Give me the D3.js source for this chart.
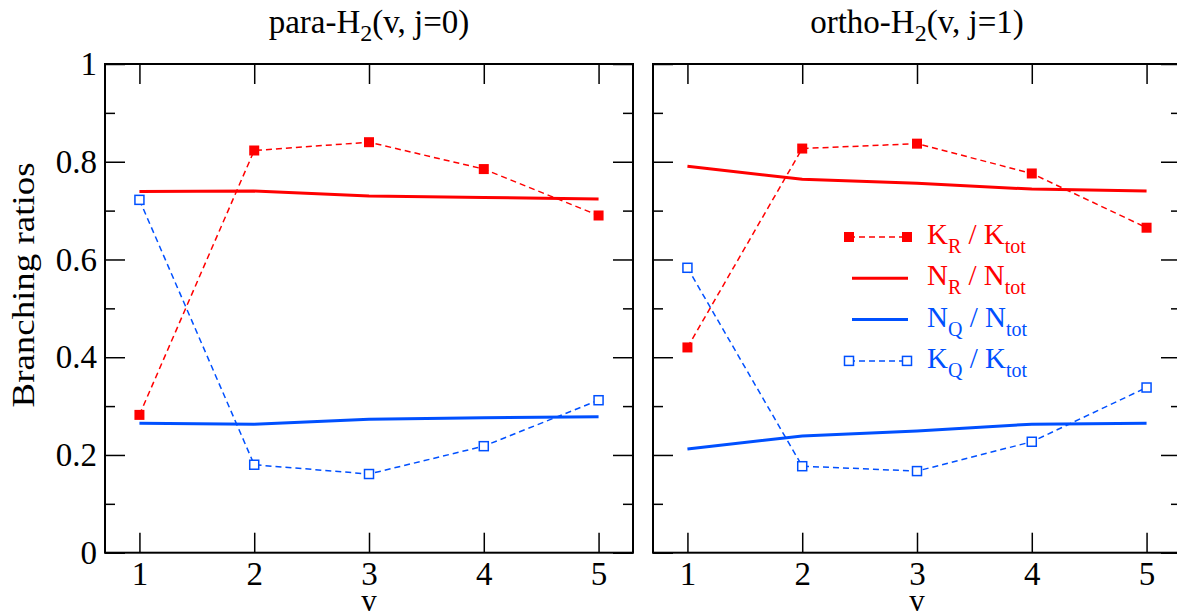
<!DOCTYPE html>
<html>
<head>
<meta charset="utf-8">
<script src="https://cdn.jsdelivr.net/npm/d3@7"></script>
<style>
  body { margin: 0; background: #fff; }
  text { font-family: "Liberation Serif", "DejaVu Serif", serif; }
</style>
</head>
<body>
<div id="chart"></div>
<script>
//Data//
var vLevels = [1, 2, 3, 4, 5];
var yTicks = [0, 0.2, 0.4, 0.6, 0.8, 1];
var yMinor = [0.1, 0.3, 0.5, 0.7, 0.9];

//para-H2 (j=0)
var paraKR = [0.282, 0.823, 0.840, 0.785, 0.690];
var paraNR = [0.739, 0.740, 0.730, 0.727, 0.724];
var paraNQ = [0.265, 0.263, 0.273, 0.276, 0.278];
var paraKQ = [0.722, 0.180, 0.161, 0.218, 0.312];

//ortho-H2 (j=1)
var orthoKR = [0.420, 0.827, 0.837, 0.776, 0.665];
var orthoNR = [0.791, 0.764, 0.756, 0.744, 0.740];
var orthoNQ = [0.212, 0.239, 0.249, 0.263, 0.265];
var orthoKQ = [0.583, 0.177, 0.167, 0.227, 0.338];

var RED = "#ff0000", BLUE = "#0050ff";

var W = 1177, H = 613;
var svg = d3.select("#chart").append("svg")
  .attr("width", W).attr("height", H);

var yTop = 64, yBottom = 552.7, pw = 528;
var y = d3.scaleLinear().domain([0, 1]).range([yBottom, yTop]);

var panels = [
  {left: 105, title: ["para-H", "2", "(v, j=0)"], kr: paraKR, nr: paraNR, nq: paraNQ, kq: paraKQ, labels: true},
  {left: 653, title: ["ortho-H", "2", "(v, j=1)"], kr: orthoKR, nr: orthoNR, nq: orthoNQ, kq: orthoKQ, labels: false}
];

panels.forEach(function(p) {
  var x = d3.scaleLinear().domain([0.7, 5.3]).range([p.left, p.left + pw]);
  var g = svg.append("g");

  //ticks, all pointing inward
  function addAxis(axis, tx, ty) {
    var a = g.append("g").attr("transform", "translate(" + tx + "," + ty + ")").call(axis);
    a.select(".domain").remove();
    a.selectAll("line").attr("stroke", "#000").attr("stroke-width", 1.5);
    a.selectAll("text").attr("font-size", 33).attr("fill", "#000")
      .style("font-family", "Liberation Serif, serif");
    return a;
  }
  var fmt = function(d) { return p.labels ? String(+d.toFixed(1)) : ""; };
  addAxis(d3.axisLeft(y).tickValues(yTicks).tickSize(-20).tickPadding(8).tickFormat(fmt), p.left, 0);
  addAxis(d3.axisLeft(y).tickValues(yMinor).tickSize(-10).tickFormat(""), p.left, 0);
  addAxis(d3.axisRight(y).tickValues(yTicks).tickSize(-20).tickFormat(""), p.left + pw, 0);
  addAxis(d3.axisRight(y).tickValues(yMinor).tickSize(-10).tickFormat(""), p.left + pw, 0);
  var bx = addAxis(d3.axisBottom(x).tickValues(vLevels).tickSize(-20).tickFormat(d3.format("d")), 0, yBottom);
  bx.selectAll("text").attr("dy", null).attr("y", 32);
  addAxis(d3.axisTop(x).tickValues(vLevels).tickSize(-20).tickFormat(""), 0, yTop);

  //frame
  g.append("rect")
    .attr("x", p.left).attr("y", yTop).attr("width", pw).attr("height", yBottom - yTop)
    .attr("fill", "none").attr("stroke", "#000").attr("stroke-width", 2);

  //x label
  g.append("text").attr("x", x(3)).attr("y", 611).attr("text-anchor", "middle")
    .attr("font-size", 31).text("v");

  //title
  var t = g.append("text").attr("x", x(3)).attr("y", 33).attr("text-anchor", "middle").attr("font-size", 33);
  t.append("tspan").text(p.title[0]);
  t.append("tspan").attr("dy", 8).attr("font-size", 24).text(p.title[1]);
  t.append("tspan").attr("dy", -8).text(p.title[2]);

  var line = d3.line().x(function(d, i) { return x(vLevels[i]); }).y(function(d) { return y(d); });

  //solid N ratios
  g.append("path").datum(p.nr).attr("d", line).attr("fill", "none")
    .attr("stroke", RED).attr("stroke-width", 3);
  g.append("path").datum(p.nq).attr("d", line).attr("fill", "none")
    .attr("stroke", BLUE).attr("stroke-width", 3);

  //dashed K ratios
  g.append("path").datum(p.kr).attr("d", line).attr("fill", "none")
    .attr("stroke", RED).attr("stroke-width", 1.5).attr("stroke-dasharray", "6,4");
  g.append("path").datum(p.kq).attr("d", line).attr("fill", "none")
    .attr("stroke", BLUE).attr("stroke-width", 1.5).attr("stroke-dasharray", "6,4");

  g.selectAll(".kr").data(p.kr).enter().append("rect").attr("class", "kr")
    .attr("x", function(d, i) { return x(vLevels[i]) - 5; })
    .attr("y", function(d) { return y(d) - 5; })
    .attr("width", 10).attr("height", 10).attr("fill", RED);
  g.selectAll(".kq").data(p.kq).enter().append("rect").attr("class", "kq")
    .attr("x", function(d, i) { return x(vLevels[i]) - 4.5; })
    .attr("y", function(d) { return y(d) - 4.5; })
    .attr("width", 9).attr("height", 9).attr("fill", "#fff")
    .attr("stroke", BLUE).attr("stroke-width", 1.5);
});

//y axis title
svg.append("text")
  .attr("transform", "translate(34,285) rotate(-90)")
  .attr("text-anchor", "middle").attr("font-size", 31)
  .attr("textLength", 245).attr("lengthAdjust", "spacingAndGlyphs")
  .text("Branching ratios");

//Legend (right panel)
var legendItems = [
  {main: "K", sub: "R", den: "K", color: RED, dashed: true, filled: true},
  {main: "N", sub: "R", den: "N", color: RED, dashed: false},
  {main: "N", sub: "Q", den: "N", color: BLUE, dashed: false},
  {main: "K", sub: "Q", den: "K", color: BLUE, dashed: true, filled: false}
];
var lg = svg.append("g");
legendItems.forEach(function(d, i) {
  var ly = 237 + i * 41.3;
  lg.append("line").attr("x1", d.dashed ? 849 : 852).attr("x2", d.dashed ? 907 : 908)
    .attr("y1", ly).attr("y2", ly).attr("stroke", d.color)
    .attr("stroke-width", d.dashed ? 1.5 : 3).attr("stroke-dasharray", d.dashed ? "6,4" : null);
  if (d.dashed) {
    [849, 907].forEach(function(mx) {
      if (d.filled) {
        lg.append("rect").attr("x", mx - 5).attr("y", ly - 5).attr("width", 10).attr("height", 10).attr("fill", d.color);
      } else {
        lg.append("rect").attr("x", mx - 4.5).attr("y", ly - 4.5).attr("width", 9).attr("height", 9)
          .attr("fill", "#fff").attr("stroke", d.color).attr("stroke-width", 1.5);
      }
    });
  }
  var t = lg.append("text").attr("x", 927).attr("y", ly + 7).attr("font-size", 29).attr("fill", d.color);
  t.append("tspan").text(d.main);
  t.append("tspan").attr("dy", 9).attr("font-size", 20).text(d.sub);
  t.append("tspan").attr("dy", -9).text(" / " + d.den);
  t.append("tspan").attr("dy", 9).attr("font-size", 20).text("tot");
});
</script>
</body>
</html>
